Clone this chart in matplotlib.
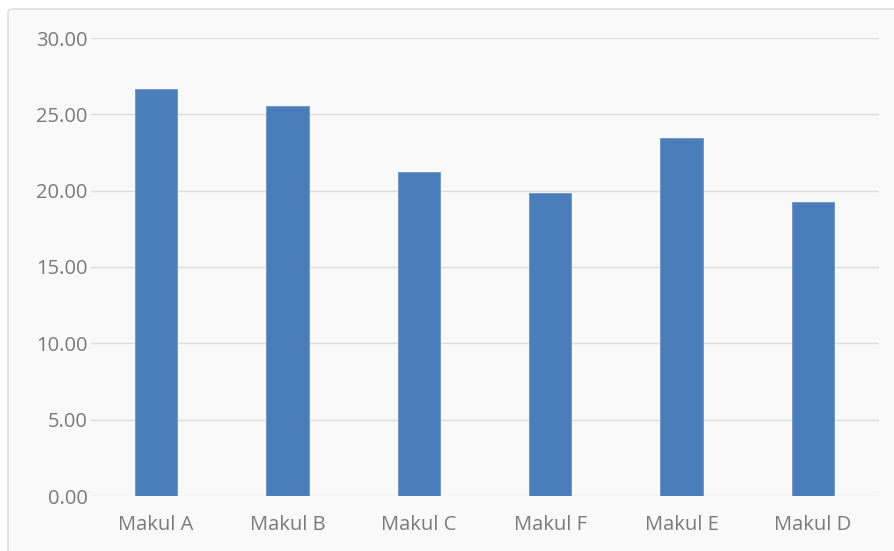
import matplotlib
matplotlib.use("Agg")
import matplotlib.pyplot as plt
from matplotlib.patches import FancyBboxPatch

categories = ["Makul A", "Makul B", "Makul C", "Makul F", "Makul E", "Makul D"]
values = [26.65, 25.57, 21.20, 19.82, 23.45, 19.23]
yticks = [0, 5, 10, 15, 20, 25, 30]

plt.rcParams['font.family'] = ['Open Sans', 'DejaVu Sans']

W, H = 894, 551
fig = plt.figure(figsize=(W / 100, H / 100), dpi=100)
fig.patch.set_facecolor("white")

# chart area frame (right and bottom edges run off the image)
frame = FancyBboxPatch((8 / W, -10 / H), 900 / W, (551 - 9 + 10) / H,
                       boxstyle="round,pad=0,rounding_size=0.006",
                       transform=fig.transFigure, facecolor="#f9f9f9",
                       edgecolor="#d9d9d9", linewidth=1.0, zorder=-10)
fig.patches.append(frame)

ax = fig.add_axes([90.5 / W, 1 - 496 / H, 788 / W, (496 - 38) / H])
ax.set_facecolor("none")
ax.set_zorder(5)

x = list(range(len(categories)))
ax.bar(x, values, width=0.32, color="#4a7ebb", edgecolor="#6b95c8", linewidth=0.6, zorder=3)

ax.set_xlim(-0.5, len(categories) - 0.5)
ax.set_ylim(0, 30)
ax.set_yticks(yticks)
ax.set_yticklabels([f"{v:.2f}" for v in yticks])
ax.set_xticks(x)
ax.set_xticklabels(categories)

ax.grid(axis="y", color="#dcdcdc", linewidth=1.0, zorder=0)
ax.set_axisbelow(True)
for s in ax.spines.values():
    s.set_visible(False)
ax.tick_params(axis="both", length=0, labelsize=14.5, colors="#7a7a7a")
ax.tick_params(axis="y", pad=2)
ax.tick_params(axis="x", pad=14)

fig.savefig("out.png", dpi=100)
